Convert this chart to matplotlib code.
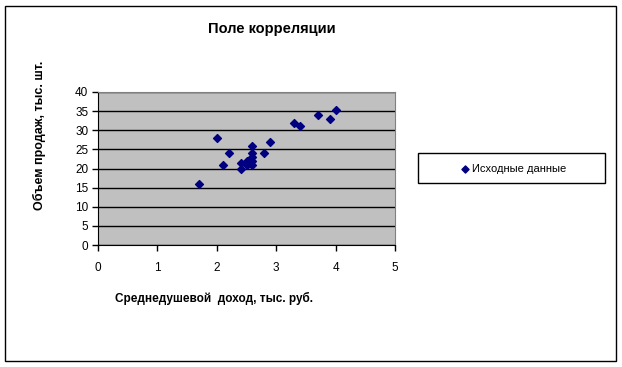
import matplotlib.pyplot as plt
from matplotlib.patches import Rectangle

plt.rcParams['font.family'] = ['Liberation Sans', 'DejaVu Sans']

# среднедушевой доход, тыс. руб.
income = [1.7, 2.0, 2.1, 2.2, 2.4, 2.4, 2.5, 2.5, 2.6, 2.6,
          2.6, 2.6, 2.6, 2.8, 2.9, 3.3, 3.4, 3.7, 3.9, 4.0]
# объем продаж, тыс. шт.
sales = [16, 28, 21, 24, 20, 21.5, 22, 21, 26, 24,
         23, 22, 21, 24, 27, 32, 31, 34, 33, 35.3]

fig = plt.figure(figsize=(6.22, 3.67), dpi=100)
fig.patches.append(Rectangle((5 / 622, 6 / 367), 611 / 622, 355 / 367,
                             transform=fig.transFigure, fill=False,
                             edgecolor='black', linewidth=1))

ax = fig.add_axes([98 / 622, 1 - 245 / 367, 297 / 622, 153 / 367])
ax.set_facecolor('#C0C0C0')
ax.scatter(income, sales, marker='D', s=16, color='#000080', zorder=3,
           label='Исходные данные')

ax.set_xlim(0, 5)
ax.set_ylim(0, 40)
ax.set_xticks(range(0, 6))
ax.set_yticks(range(0, 45, 5))
ax.yaxis.grid(True, color='black', linewidth=1)
ax.set_axisbelow(True)
for side in ['top', 'right']:
    ax.spines[side].set_color('#808080')
ax.tick_params(labelsize=8.5, length=4, width=1, direction='out')
ax.tick_params(axis='x', pad=8)
ax.tick_params(axis='y', pad=3)

fig.text(272 / 622, 1 - 29 / 367, 'Поле корреляции', ha='center', va='center',
         fontsize=10.5, fontweight='bold')
fig.text(39 / 622, 1 - 135 / 367, 'Объем продаж, тыс. шт.', ha='center',
         va='center', rotation=90, fontsize=9, fontweight='bold')
fig.text(214 / 622, 1 - 298 / 367, 'Среднедушевой  доход, тыс. руб.',
         ha='center', va='center', fontsize=8.5, fontweight='bold')

# рамка легенды
fig.patches.append(Rectangle((418 / 622, 1 - 183 / 367), 187 / 622, 30 / 367,
                             transform=fig.transFigure, fill=False,
                             edgecolor='black', linewidth=1))
leg = fig.legend(loc='center', bbox_to_anchor=(513 / 622, 1 - 169 / 367),
                 fontsize=8, frameon=False, handletextpad=0.1,
                 markerscale=0.9, handlelength=1.0)

fig.savefig('out.png', dpi=100)
